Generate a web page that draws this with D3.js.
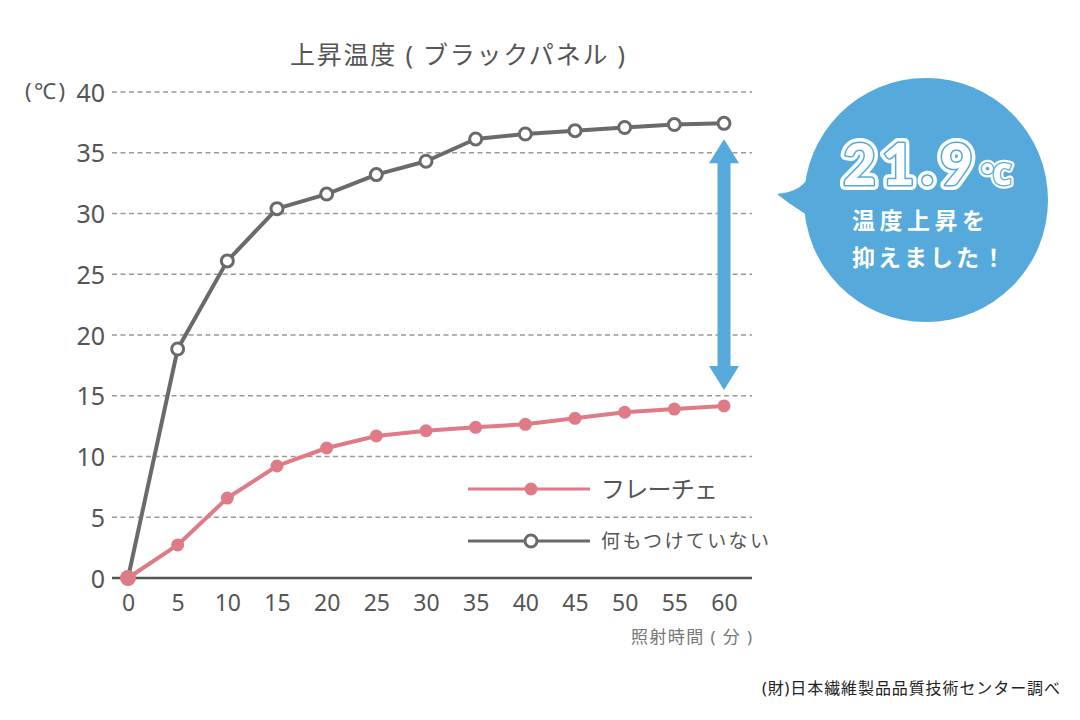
<!DOCTYPE html>
<html><head><meta charset="utf-8">
<script src="https://cdn.jsdelivr.net/npm/d3@7"></script>
<style>
html,body{margin:0;padding:0;background:#fff;}
svg{display:block;font-family:"Noto Sans","Noto Sans CJK JP",sans-serif;}
</style></head>
<body>
<svg id="chart" width="1080" height="720"></svg>
<script>
const minutes = [0,5,10,15,20,25,30,35,40,45,50,55,60];
const noCoating = [0,18.85,26.1,30.4,31.6,33.2,34.3,36.13,36.54,36.82,37.08,37.32,37.42];
const freche = [0,2.72,6.58,9.22,10.7,11.69,12.12,12.4,12.65,13.14,13.64,13.9,14.16];
const yTicks = [0,5,10,15,20,25,30,35,40];
const seriesNames = ["フレーチェ","何もつけていない"];
const titleText = "上昇温度 ( ブラックパネル )";
const xTitle = "照射時間 ( 分 )";
const yUnit = "(℃)";
const sourceText = "(財)日本繊維製品品質技術センター調べ";
const calloutValue = "21.9";
const calloutUnit = "℃";
const calloutLines = ["温度上昇を","抑えました！"];

const svg = d3.select("#chart");
const x = d3.scaleLinear().domain([0,60]).range([128,724]);
const y = d3.scaleLinear().domain([0,40]).range([578,92]);
const gridX0 = 112, gridX1 = 752;

const gray = "#6a6a6a", pink = "#df7b86", blue = "#55a9db";

// fit text to a target width by letter-spacing
function fitWidth(sel, target){
  const n = sel.text().length;
  const w = sel.node().getComputedTextLength();
  const ls = (target - w) / Math.max(1, n - 1);
  sel.attr("letter-spacing", ls);
}

// title
const tt = svg.append("text").attr("x",290).attr("y",64)
  .attr("font-size",25).attr("fill","#555").text(titleText);
fitWidth(tt, 335);

// gridlines
svg.append("g").selectAll("line").data(yTicks.filter(d=>d>0)).join("line")
  .attr("x1",gridX0).attr("x2",gridX1).attr("y1",d=>y(d)).attr("y2",d=>y(d))
  .attr("stroke","#9a9a9a").attr("stroke-width",1.5).attr("stroke-dasharray","5,3.5");

// y axis labels
const yAxis = d3.axisLeft(y).tickValues(yTicks).tickSize(0).tickPadding(0);
const gy = svg.append("g").attr("transform","translate(105,0)").call(yAxis);
gy.select(".domain").remove();
gy.selectAll("text").attr("font-size",25).attr("fill","#555")
  .attr("font-family",'"Noto Sans","Noto Sans CJK JP",sans-serif').attr("dy","0.36em");
const yu = svg.append("text").attr("x",25).attr("y",y(40)+7)
  .attr("font-size",22).attr("fill","#555").text(yUnit);
fitWidth(yu, 40);

// x axis
svg.append("line").attr("x1",gridX0).attr("x2",gridX1).attr("y1",y(0)).attr("y2",y(0))
  .attr("stroke","#555").attr("stroke-width",2.5);
const xAxis = d3.axisBottom(x).tickValues(minutes).tickSize(0).tickPadding(0);
const gx = svg.append("g").attr("transform","translate(0,595)").call(xAxis);
gx.select(".domain").remove();
gx.selectAll("text").attr("font-size",23).attr("fill","#555")
  .attr("font-family",'"Noto Sans","Noto Sans CJK JP",sans-serif').attr("dy","0.71em");
const xt = svg.append("text").attr("x",631).attr("y",643)
  .attr("font-size",17).attr("fill","#777").text(xTitle);
fitWidth(xt, 121);

// lines
const line = d3.line().x((d,i)=>x(minutes[i])).y(d=>y(d));
svg.append("path").datum(noCoating).attr("d",line).attr("fill","none")
  .attr("stroke",gray).attr("stroke-width",4).attr("stroke-linejoin","round");
svg.append("g").selectAll("circle").data(noCoating).join("circle")
  .attr("cx",(d,i)=>x(minutes[i])).attr("cy",d=>y(d)).attr("r",6)
  .attr("fill","#fff").attr("stroke",gray).attr("stroke-width",3);
svg.append("path").datum(freche).attr("d",line).attr("fill","none")
  .attr("stroke",pink).attr("stroke-width",4).attr("stroke-linejoin","round");
svg.append("g").selectAll("circle").data(freche).join("circle")
  .attr("cx",(d,i)=>x(minutes[i])).attr("cy",d=>y(d)).attr("r",d=>d===0?8:6.5)
  .attr("fill",pink);

// legend
const lg = [{c:pink,fill:pink,name:seriesNames[0],yy:489,fs:24,w:117},{c:gray,fill:"#fff",name:seriesNames[1],yy:541,fs:19,w:168}];
lg.forEach(l=>{
  svg.append("line").attr("x1",468).attr("x2",590).attr("y1",l.yy).attr("y2",l.yy)
    .attr("stroke",l.c).attr("stroke-width",3);
  svg.append("circle").attr("cx",531).attr("cy",l.yy).attr("r",l.fill==="#fff"?6:6.5)
    .attr("fill",l.fill).attr("stroke",l.fill==="#fff"?l.c:"none").attr("stroke-width",3);
  const t = svg.append("text").attr("x",601).attr("y",l.yy).attr("dy","0.36em")
    .attr("font-size",l.fs).attr("fill","#555").text(l.name);
  fitWidth(t, l.w);
});

// double arrow
const ax = x(60);
const topY = y(noCoating[12]) + 16, botY = y(freche[12]) - 16;
const hw = 15, hl = 24, sw = 6.5;
svg.append("path").attr("fill",blue).attr("d",
  `M${ax},${topY} L${ax+hw},${topY+hl} L${ax+sw},${topY+hl} L${ax+sw},${botY-hl} L${ax+hw},${botY-hl} L${ax},${botY} L${ax-hw},${botY-hl} L${ax-sw},${botY-hl} L${ax-sw},${topY+hl} L${ax-hw},${topY+hl} Z`);

// callout bubble
const cx = 926, cy = 200, r = 122;
svg.append("circle").attr("cx",cx).attr("cy",cy).attr("r",r).attr("fill",blue);
svg.append("path").attr("fill",blue)
  .attr("d",`M808,178 Q800,192 777,194 Q792,206 812,218 Z`);

const numG = svg.append("g").attr("font-family",'"Lato","Noto Sans",sans-serif').attr("font-weight",900);
[{w:10,c:"#fff"},{w:3,c:blue}].forEach(s=>{
  const t = numG.append("text").attr("x",843).attr("y",185).attr("font-size",57)
    .attr("fill","#fff").attr("stroke",s.c).attr("stroke-width",s.w).attr("stroke-linejoin","round")
    .attr("paint-order","stroke").text(calloutValue);
  fitWidth(t, 130);
});
[{w:7,c:"#fff"},{w:2.5,c:blue}].forEach(s=>{
  numG.append("text").attr("x",981).attr("y",185).attr("font-size",30)
    .attr("fill","#fff").attr("stroke",s.c).attr("stroke-width",s.w).attr("stroke-linejoin","round")
    .attr("paint-order","stroke").text(calloutUnit);
});
const lw = [133, 153];
calloutLines.forEach((t,i)=>{
  const s = svg.append("text").attr("x",852).attr("y",229+i*37).attr("font-size",23)
    .attr("font-weight",700).attr("fill","#fff")
    .attr("font-family",'"Noto Sans CJK JP",sans-serif').text(t);
  fitWidth(s, lw[i]);
});

// source
const st = svg.append("text").attr("x",762).attr("y",694)
  .attr("font-size",16).attr("fill","#222").text(sourceText);
fitWidth(st, 298);
</script>
</body></html>
